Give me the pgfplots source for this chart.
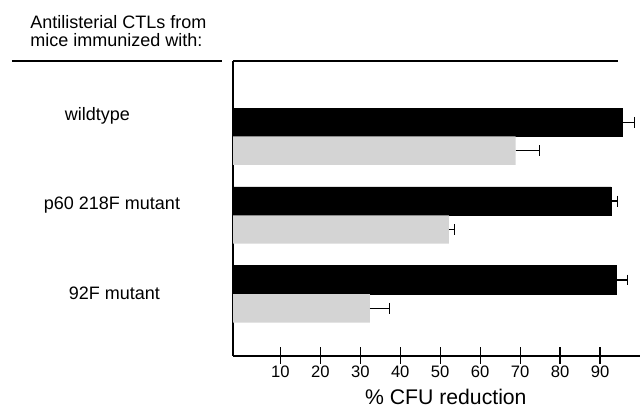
\documentclass[border=0pt]{standalone}
\usepackage{fontspec}
\setmainfont{Liberation Sans}
\usepackage{pgfplots}
\pgfplotsset{compat=1.18}

\definecolor{stipple}{gray}{0.83}

\begin{document}
\begin{tikzpicture}
\begin{axis}[
  name=ax,
  scale only axis,
  width=203.5pt, height=147.5pt,
  xbar,
  bar width=0.36,
  % bars start at the left frame line, which lies a little left of 0
  x coord trafo/.code={\pgfmathparse{#1+1.85}},
  x coord inv trafo/.code={\pgfmathparse{#1-1.85}},
  xmin=-1.85, xmax=100,
  ymin=0.22, ymax=3.96,
  xtick={10,20,...,90},
  ytick=\empty,
  axis x line*=bottom,
  axis y line*=left,
  axis line style={line width=1pt, -},
  tick align=center,
  major tick length=8.5pt,
  tick style={line width=0.6pt, black},
  xticklabel style={font=\fontsize{8.3}{9}\selectfont, yshift=2.5pt},
  /pgf/number format/assume math mode=true,
  clip=false,
  error bars/x dir=plus,
  error bars/x explicit,
  error bars/error mark=|,
  error bars/error bar style={line width=0.7pt, black},
  error bars/error mark options={mark size=2.7pt, line width=0.7pt, black},
]
% black bars
\addplot[fill=black, draw=black, bar shift=0.18]
  coordinates {(95.5,3) +- (3.1,0) (92.8,2) +- (1.5,0) (94.1,1) +- (2.7,0)};
% stippled bars
\addplot[fill=stipple, draw=none, bar shift=-0.18]
  coordinates {(68.9,3) +- (6.0,0) (52.2,2) +- (1.4,0) (32.4,1) +- (4.9,0)};

% top frame line and header rule
\draw[line width=1pt] (rel axis cs:0,1) -- (rel axis cs:0.945,1);
\draw[line width=0.6pt] (rel axis cs:-0.543,0.999) -- (rel axis cs:-0.027,0.999);

\node[anchor=base west, align=left, inner sep=0pt, font=\fontsize{9}{9.2}\selectfont]
  at (rel axis cs:-0.4988,1.0475) {Antilisterial CTLs from\\mice immunized with:};

\node[anchor=base, font=\fontsize{9}{10}\selectfont] at (rel axis cs:-0.3329,0.799) {wildtype};
\node[anchor=base, font=\fontsize{9}{10}\selectfont] at (rel axis cs:-0.2973,0.4973) {p60 218F mutant};
\node[anchor=base, font=\fontsize{9}{10}\selectfont] at (rel axis cs:-0.2912,0.1905) {92F mutant};

\node[anchor=base, font=\fontsize{10.6}{11}\selectfont] at (rel axis cs:0.523,-0.1637) {\% CFU reduction};
\end{axis}
\pgfresetboundingbox
\path[use as bounding box] (ax.south west) ++(-116.5pt,-26.65pt) rectangle ++(320.5pt,204.5pt);
\end{tikzpicture}
\end{document}
